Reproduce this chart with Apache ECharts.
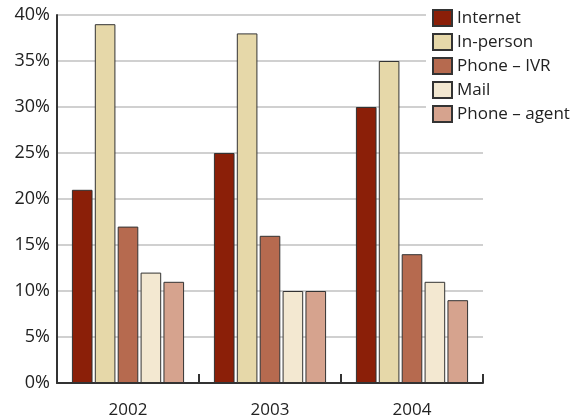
<!DOCTYPE html>
<html>
<head>
  <meta charset="utf-8">
  <title>Channels by year</title>
  <script src="https://cdn.jsdelivr.net/npm/echarts@6/dist/echarts.min.js"></script>
  <style>
    html, body { margin: 0; padding: 0; background: #fff; }
    #chart { width: 574px; height: 419px; }
  </style>
</head>
<body>
  <div id="chart"></div>
  <script>
    // data (percent)
    var years = ['2002', '2003', '2004'];
    var seriesNames = ['Internet', 'In-person', 'Phone – IVR', 'Mail', 'Phone – agent'];
    var internet = [21, 25, 30];
    var inPerson = [39, 38, 35];
    var phoneIvr = [17, 16, 14];
    var mail = [12, 10, 11];
    var phoneAgent = [11, 10, 9];
    var colors = ['#8b1f08', '#e6d8a9', '#b66a4f', '#f3e8d1', '#d6a38e'];

    var values = [internet, inPerson, phoneIvr, mail, phoneAgent];
    var font = '"Open Sans", "Noto Sans", sans-serif';

    var chart = echarts.init(document.getElementById('chart'));

    var series = seriesNames.map(function (name, i) {
      return {
        name: name,
        type: 'bar',
        data: values[i],
        barGap: '11%',
        barCategoryGap: '21%',
        itemStyle: { color: colors[i], borderColor: '#333', borderWidth: 1 },
        emphasis: { disabled: true }
      };
    });

    chart.setOption({
      animation: false,
      grid: { left: 57, right: 91, top: 15, bottom: 35, containLabel: false },
      legend: {
        orient: 'vertical',
        left: 426,
        top: 6,
        padding: [3, 6, 3, 6],
        backgroundColor: '#fff',
        itemWidth: 19,
        itemHeight: 16,
        itemGap: 6,
        icon: 'rect',
        selectedMode: false,
        textStyle: { fontFamily: font, fontSize: 17, lineHeight: 17, color: '#222', padding: [0, 0, 0, 0] },
        data: seriesNames
      },
      xAxis: {
        type: 'category',
        data: years,
        axisLine: { lineStyle: { color: '#333', width: 2 } },
        axisTick: { show: true, inside: true, length: 9, lineStyle: { color: '#333', width: 2 } },
        axisLabel: { fontFamily: font, fontSize: 17, color: '#222', margin: 19 }
      },
      yAxis: {
        type: 'value',
        min: 0,
        max: 40,
        interval: 5,
        axisLine: { show: true, lineStyle: { color: '#333', width: 2 } },
        axisTick: { show: false },
        splitLine: { lineStyle: { color: '#d0d0d0', width: 2 } },
        axisLabel: { fontFamily: font, fontSize: 18, color: '#222', margin: 7, formatter: '{value}%' }
      },
      series: series
    });
  </script>
</body>
</html>
